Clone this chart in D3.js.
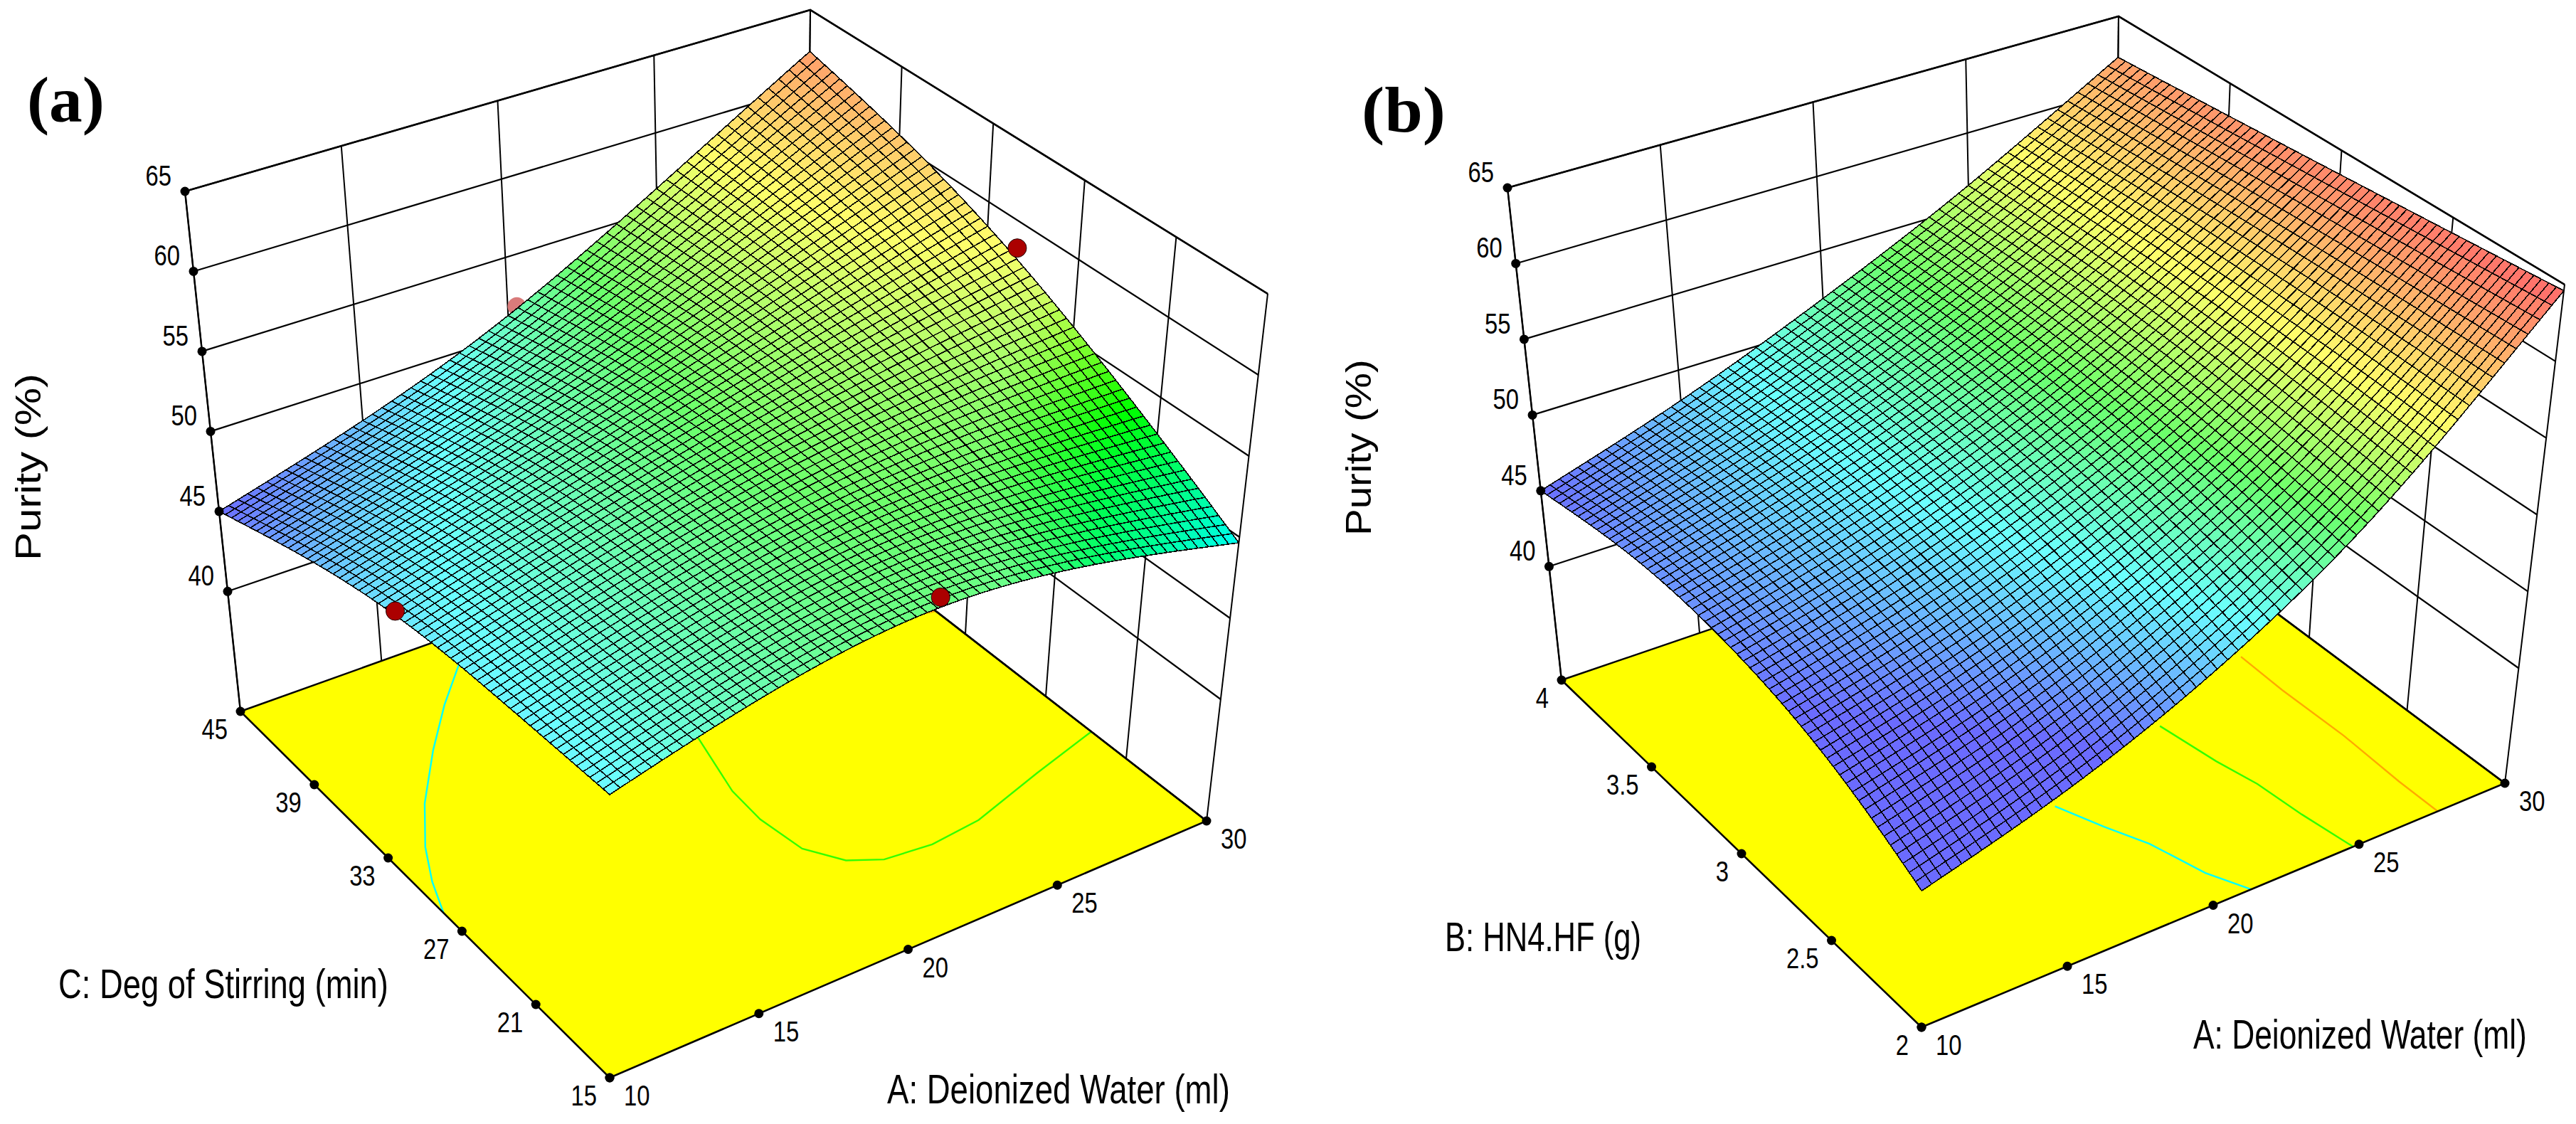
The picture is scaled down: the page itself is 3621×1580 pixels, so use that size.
<!DOCTYPE html>
<html>
<head>
<meta charset="utf-8">
<script src="https://d3js.org/d3.v7.min.js"></script>
<style>
  body { margin: 0; background: #fff; }
  text { font-family: "Liberation Sans", Arial, sans-serif; fill: #000; }
</style>
</head>
<body>
<svg width="3621" height="1580"></svg>
<script>
// axis ticks
const waterTicks = [10, 15, 20, 25, 30]
const stirTicks = [15, 21, 27, 33, 39, 45]
const hn4Ticks = [2, 2.5, 3, 3.5, 4]
const purityTicks = [40, 45, 50, 55, 60, 65]

// purity at 5x5 knots: rows go back along C or B, columns along A
const purityKnotsA = [
    [49.3, 51.8, 53.3, 52.2, 49.65],
    [49.2, 51.6, 53.5, 54.0, 53.5],
    [49.0, 51.4, 53.7, 55.7, 57.3],
    [47.5, 50.0, 52.9, 56.5, 60.3],
    [45.0, 47.5, 51.0, 56.3, 62.3]
]
const purityKnotsB = [
    [41.1, 43.7, 47.9, 54.1, 64.6],
    [44.4, 46.5, 50.0, 55.2, 64.0],
    [46.0, 48.0, 51.3, 55.9, 63.4],
    [46.4, 48.6, 51.9, 56.3, 62.8],
    [45.0, 47.8, 51.7, 56.2, 62.2]
]

// contour lines on the floor, as [A, C] or [A, B]
const floorContoursA = [
    { color: '#00ffff', points: [[10, 28.5], [10.5, 30.6], [11.2, 32.8], [12.3, 35.4], [13.9, 38.4], [15.4, 40.9], [16.9, 43.1]] },
    { color: '#33ff00', points: [[20.8, 33.4], [20.1, 28.9], [20, 26.5], [20.2, 23.7], [20.9, 21.9], [21.8, 21], [23.3, 20.7], [25, 21], [27.6, 22.4], [30, 23.6]] },
    { color: '#ffaa00', points: [[29.5, 35.4], [30, 35.2]] }
]
const floorContoursB = [
    { color: '#00ffff', points: [[21.3, 2], [20.7, 2.15], [20.2, 2.37], [19.6, 2.52], [19, 2.69]] },
    { color: '#33ff00', points: [[24.8, 2], [24.55, 2.23], [24.4, 2.44], [24.1, 2.61], [23.8, 2.86]] },
    { color: '#ffaa00', points: [[27.7, 2], [27.7, 2.2], [27.8, 2.5], [27.75, 2.81], [27.8, 3.03]] }
]

// design points: [A, C, purity]
const redPointsA = [[10, 31.2, 48.9], [20.4, 15, 53.5], [30, 31, 58.3]]
const hiddenPointsA = [[20.3, 45, 51.7]]

const svg = d3.select('svg')
const colorScale = d3.scaleLinear()
    .domain([45, 49.5, 53.5, 58, 64.5])
    .range(['#0000ff', '#00ffff', '#00ff00', '#ffff00', '#ff0000'])
    .clamp(true)
const cells = 60

const surfaceAt = (knots, u, v) =>
    d3.interpolateBasis(knots.map(row => d3.interpolateBasis(row)(u)))(v)

const drawPanel = cfg => {
    const g = svg.append('g')
    const uScale = d3.scaleLinear().domain(d3.extent(cfg.uTicks)).range([0, 1])
    const vScale = d3.scaleLinear().domain(d3.extent(cfg.vTicks)).range([0, 1])
    const wScale = d3.scaleLinear().domain([32.5, 65]).range([0, 1])

    // the box is drawn by blending its eight corners
    const blend = (u, v, w) => {
        const c = cfg.corners
        const pick = i => {
            const low = (1 - v) * ((1 - u) * c.f0[i] + u * c.r0[i]) + v * ((1 - u) * c.l0[i] + u * c.b0[i])
            const high = (1 - v) * ((1 - u) * c.f1[i] + u * c.r1[i]) + v * ((1 - u) * c.l1[i] + u * c.b1[i])
            return (1 - w) * low + w * high
        }
        return [pick(0), pick(1)]
    }
    const project = (a, b, z) => blend(uScale(a), vScale(b), wScale(z))
    const line = d3.line()
    const [uMin, uMax] = d3.extent(cfg.uTicks)
    const [vMin, vMax] = d3.extent(cfg.vTicks)
    const floorZ = wScale.domain()[0]
    const topZ = wScale.domain()[1]

    const stroke = (points, width = 2.2, color = '#000') => g.append('path')
        .attr('d', line(points))
        .attr('fill', 'none')
        .attr('stroke', color)
        .attr('stroke-width', width)

    // floor
    g.append('path')
        .attr('d', line([[uMin, vMin], [uMax, vMin], [uMax, vMax], [uMin, vMax]].map(d => project(d[0], d[1], floorZ))) + 'Z')
        .attr('fill', '#ffff00')
    cfg.contours.forEach(c => stroke(c.points.map(d => project(d[0], d[1], floorZ)), 2.4, c.color))
    stroke([[uMin, vMax], [uMin, vMin], [uMax, vMin], [uMax, vMax]].map(d => project(d[0], d[1], floorZ)), 2.6)

    // back walls
    stroke([project(uMin, vMax, floorZ), project(uMax, vMax, floorZ), project(uMax, vMin, floorZ)], 2.4)
    stroke([project(uMin, vMax, topZ), project(uMax, vMax, topZ), project(uMax, vMin, topZ)], 2.6)
    cfg.uTicks.forEach(a => stroke([project(a, vMax, floorZ), project(a, vMax, topZ)], 2))
    cfg.vTicks.forEach(b => stroke([project(uMax, b, floorZ), project(uMax, b, topZ)], 2))
    purityTicks.forEach(z => stroke([project(uMin, vMax, z), project(uMax, vMax, z), project(uMax, vMin, z)], 2.2))

    // points behind the surface
    cfg.hidden.forEach(d => {
        const p = project(d[0], d[1], d[2])
        g.append('circle').attr('cx', p[0]).attr('cy', p[1]).attr('r', 13).attr('fill', '#d97b7b')
    })

    // surface, painted from the back corner forward
    const heights = d3.range(cells + 1).map(j =>
        d3.range(cells + 1).map(i => surfaceAt(cfg.knots, i / cells, j / cells)))
    const mesh = []
    for (let j = 0; j < cells; j++) {
        for (let i = 0; i < cells; i++) mesh.push({ i, j })
    }
    mesh.sort((a, b) => (b.i + b.j) - (a.i + a.j))

    const at = (i, j) => blend(i / cells, j / cells, wScale(heights[j][i]))
    g.append('g').selectAll('path')
        .data(mesh)
        .enter().append('path')
        .attr('d', d => line([at(d.i, d.j), at(d.i + 1, d.j), at(d.i + 1, d.j + 1), at(d.i, d.j + 1)]) + 'Z')
        .attr('fill', d => {
            const mid = (heights[d.j][d.i] + heights[d.j][d.i + 1] + heights[d.j + 1][d.i] + heights[d.j + 1][d.i + 1]) / 4
            const rise = (heights[d.j + 1][d.i] - heights[d.j][d.i]) * cells
            const run = (heights[d.j][d.i + 1] - heights[d.j][d.i]) * cells
            // the surface goes paler as it faces the light
            const white = Math.max(0, Math.min(0.42, 0.42 - 0.05 * (rise - run - 8)))
            return d3.interpolateRgb(colorScale(mid), '#fff')(white)
        })
        .attr('stroke', '#000')
        .attr('stroke-width', 1.6)
        .attr('stroke-linejoin', 'round')
        .attr('shape-rendering', 'crispEdges')

    cfg.red.forEach(d => {
        const p = project(d[0], d[1], d[2])
        g.append('circle').attr('cx', p[0]).attr('cy', p[1]).attr('r', 13)
            .attr('fill', '#ab0000').attr('stroke', '#200').attr('stroke-width', 1)
    })

    // left edge of the box, on top of the surface
    stroke([project(uMin, vMax, floorZ), project(uMin, vMax, topZ)], 2.4)

    const dot = p => g.append('circle').attr('cx', p[0]).attr('cy', p[1]).attr('r', 6.5).attr('fill', '#000')
    const tickLabel = (p, dx, dy, anchor, label) => g.append('text')
        .attr('transform', `translate(${p[0] + dx},${p[1] + dy}) scale(.82,1)`)
        .attr('text-anchor', anchor)
        .attr('font-size', 40)
        .text(label)

    purityTicks.forEach(z => {
        const p = project(uMin, vMax, z)
        dot(p)
        tickLabel(p, -19, -8, 'end', z)
    })
    cfg.vTicks.forEach(b => {
        const p = project(uMin, b, floorZ)
        dot(p)
        tickLabel(p, -18, 39, 'end', b)
    })
    cfg.uTicks.forEach(a => {
        const p = project(a, vMin, floorZ)
        dot(p)
        tickLabel(p, 20, 39, 'start', a)
    })

    // labels are squeezed sideways to the width they have in the picture
    const fitted = (x, y, length, size, label, rotate) => {
        const t = g.append('text').attr('font-size', size).text(label)
        const sx = length / t.node().getComputedTextLength()
        t.attr('transform', `translate(${x},${y})` + (rotate ? ' rotate(-90)' : '') + ` scale(${sx},1)`)
        return t
    }

    fitted(cfg.purity[0], cfg.purity[1], cfg.purity[2], 50, 'Purity (%)', true)
    fitted(cfg.vLabel[0], cfg.vLabel[1], cfg.vLabel[2], 58, cfg.vLabel[3])
    fitted(cfg.uLabel[0], cfg.uLabel[1], cfg.uLabel[2], 58, 'A: Deionized Water (ml)')

    const tag = g.append('text')
        .attr('font-size', 92)
        .attr('font-weight', 'bold')
        .style('font-family', '"Liberation Serif", serif')
        .text(cfg.tag[3])
    const tagScale = cfg.tag[2] / tag.node().getComputedTextLength()
    tag.attr('transform', `translate(${cfg.tag[0]},${cfg.tag[1]}) scale(${tagScale},1)`)
}

drawPanel({
    knots: purityKnotsA,
    uTicks: waterTicks,
    vTicks: stirTicks,
    contours: floorContoursA,
    red: redPointsA,
    hidden: hiddenPointsA,
    corners: {
        f0: [857, 1515], r0: [1696, 1154], l0: [338, 1000], b0: [1131, 716],
        f1: [857, 745], r1: [1782, 413], l1: [260, 269], b1: [1139, 14]
    },
    purity: [57, 788, 263],
    vLabel: [82, 1403, 464, 'C: Deg of Stirring (min)'],
    uLabel: [1247, 1551, 482],
    tag: [38, 171, 109, '(a)']
})

drawPanel({
    knots: purityKnotsB,
    uTicks: waterTicks,
    vTicks: hn4Ticks,
    contours: floorContoursB,
    red: [],
    hidden: [],
    corners: {
        f0: [2701, 1444], r0: [3521, 1101], l0: [2195, 956], b0: [2971, 691],
        f1: [2702, 719], r1: [3605, 400], l1: [2119, 264], b1: [2978, 23]
    },
    purity: [1927, 753, 248],
    vLabel: [2031, 1337, 276, 'B: HN4.HF (g)'],
    uLabel: [3083, 1474, 469],
    tag: [1914, 185, 118, '(b)']
})
</script>
</body>
</html>
